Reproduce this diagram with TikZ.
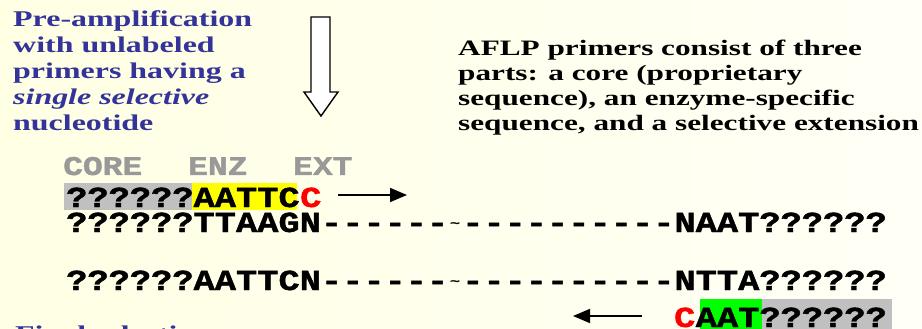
\documentclass[tikz,border=0pt]{standalone}
\usepackage{fontspec}
\usetikzlibrary{arrows.meta}
\newfontfamily\txtfont{Liberation Serif}[FakeStretch=1.42]
\newfontfamily\seqfont{Liberation Mono}[FakeBold=1.5,FakeStretch=1.22]
\definecolor{bgleft}{RGB}{255,255,228}
\definecolor{bgright}{RGB}{255,255,246}
\definecolor{txtblue}{RGB}{51,51,153}
\definecolor{lblgray}{RGB}{153,153,153}
\definecolor{boxgray}{RGB}{192,192,192}
\definecolor{boxyellow}{RGB}{255,255,0}
\definecolor{boxgreen}{RGB}{0,255,0}
\definecolor{seqred}{RGB}{255,0,0}
\tikzset{
  bluetxt/.style={inner sep=0pt, anchor=base west, text=txtblue, font=\txtfont\bfseries\fontsize{22.5}{26}\selectfont},
  blacktxt/.style={inner sep=0pt, anchor=base west, text=black, font=\txtfont\bfseries\fontsize{22}{25}\selectfont},
  seq/.style={inner sep=0pt, text height=20pt, text depth=1pt, text=black, font=\seqfont\bfseries\fontsize{29}{30}\selectfont},
  lbl/.style={inner sep=0pt, text height=18pt, text depth=0pt, anchor=base west, text=lblgray, font=\seqfont\bfseries\fontsize{27}{28}\selectfont},
  tild/.style={inner sep=0pt, text=black, font=\seqfont\fontsize{14}{14}\selectfont},
  primerarrow/.style={line width=1.6pt, -{Triangle[length=17pt,width=14pt]}},
}
\begin{document}
\begin{tikzpicture}[x=1pt,y=-1pt]
\useasboundingbox (0,0) rectangle (922,329);
\begin{scope}
\clip (0,0) rectangle (922,329);
\shade[left color=bgleft, right color=bgright] (0,0) rectangle (922,329);

% left blue text
\node[bluetxt] (b1) at (13,27) {Pre-amplification};
\node[bluetxt] (b2) at (13,53) {with unlabeled};
\node[bluetxt] (b3) at (13,79) {primers having a};
\node[bluetxt] (b4) at (13,105) {\itshape single selective};
\node[bluetxt] (b5) at (13,131) {nucleotide};

% hollow down arrow
\draw[line width=1.4pt, fill=white] (311,17) -- (330,17) -- (330,92) -- (338,92) -- (321,116) -- (304,92) -- (311,92) -- cycle;

% right black text
\node[blacktxt] (t1) at (458,56) {AFLP primers consist of three};
\node[blacktxt] (t2) at (458,81) {parts: a core (proprietary};
\node[blacktxt] (t3) at (458,106) {sequence), an enzyme-specific};
\node[blacktxt] (t4) at (458,131) {sequence, and a selective extension};

% labels
\node[lbl] (lcore) at (63,175) {CORE};
\node[lbl] (lenz) at (188,175) {ENZ};
\node[lbl] (lext) at (293,175) {EXT};

% row 1 primer
\fill[boxgray] (64,183) rectangle (192,210);
\fill[boxyellow] (192,183) rectangle (297,210);
\node[seq, anchor=base west] (r1) at (66,207) {??????AATTC};
\node[seq, anchor=base west, text=seqred] (r1c) at (r1.base east) {C};
\coordinate (a1s) at (338,195);
\coordinate (a1e) at (407,195);
\draw[primerarrow] (a1s) -- (a1e);

% row 2
\node[seq, anchor=base west] (r2l) at (66,232) {??????TTAAGN------};
\node[tild] (r2t) at (455,225) {\char`\~};
\node[seq, anchor=base east] (r2r) at (887,232) {----------NAAT??????};

% row 3
\node[seq, anchor=base west] (r3l) at (66,290) {??????AATTCN------};
\node[tild] (r3t) at (455,283) {\char`\~};
\node[seq, anchor=base east] (r3r) at (887,290) {----------NTTA??????};

% row 4 primer
\fill[boxgreen] (700,299) rectangle (762,335);
\fill[boxgray] (762,299) rectangle (892,335);
\node[seq, anchor=base east] (r4) at (887,327) {AAT??????};
\node[seq, anchor=base east, text=seqred] (r4c) at (r4.base west) {C};
\coordinate (a4s) at (642,316);
\coordinate (a4e) at (573,316);
\draw[primerarrow] (a4s) -- (a4e);

% bottom cut-off text
\node[bluetxt] (b6) at (15,341) {Final selective};
\end{scope}
\end{tikzpicture}
\end{document}
